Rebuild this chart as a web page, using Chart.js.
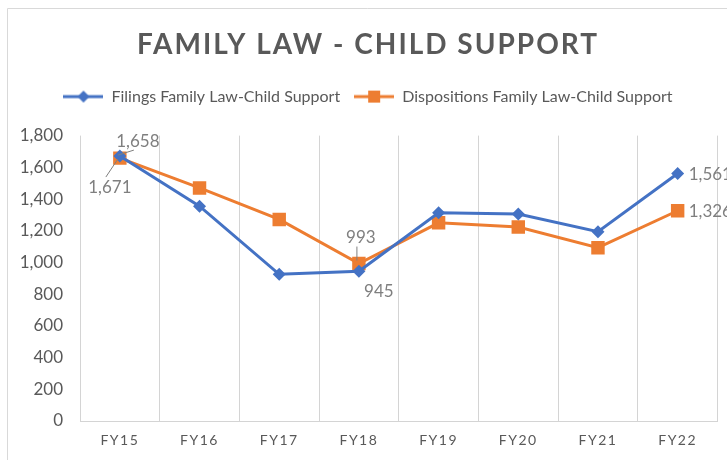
<!DOCTYPE html>
<html>
<head>
<meta charset="utf-8">
<script src="https://cdn.jsdelivr.net/npm/chart.js@4"></script>
<style>
  html, body { margin: 0; padding: 0; background: #fff; overflow: hidden; }
  #wrap { position: relative; width: 727px; height: 460px; }
</style>
</head>
<body>
<div id="wrap"><canvas id="chart" width="727" height="460"></canvas></div>
<script>
// --- chart data ---
const categories = ['FY15', 'FY16', 'FY17', 'FY18', 'FY19', 'FY20', 'FY21', 'FY22'];
const filings = [1671, 1355, 925, 945, 1313, 1306, 1194, 1561];
const dispositions = [1658, 1470, 1271, 993, 1250, 1223, 1093, 1326];
const yTicks = [0, 200, 400, 600, 800, 1000, 1200, 1400, 1600, 1800];

const BLUE = '#4472C4';
const ORANGE = '#ED7D31';
const TEXT = '#595959';
const LABEL = '#7f7f7f';
const GRID = '#d4d4d4';

// labels shown on the chart: [dataset, index, dx, dy, align, leader]
const shownLabels = [
    [1, 0, 18, -17, 'center', true],
    [0, 0, -10, 31, 'center', true],
    [1, 3, 2, -26, 'center', true],
    [0, 3, 20, 20, 'center', false],
    [0, 7, 11, 1, 'left', false],
    [1, 7, 11, 1, 'left', false]
];

// small canvas used as legend marker (line + point)
function legendMarker(color, shape) {
    const c = document.createElement('canvas');
    c.width = 40; c.height = 16;
    const g = c.getContext('2d');
    g.strokeStyle = color;
    g.lineWidth = 3;
    g.beginPath(); g.moveTo(0, 8); g.lineTo(40, 8); g.stroke();
    g.fillStyle = color;
    g.beginPath();
    if (shape === 'diamond') {
        g.moveTo(20, 2); g.lineTo(26, 8); g.lineTo(20, 14); g.lineTo(14, 8);
    } else {
        g.rect(14, 2, 12, 12);
    }
    g.fill();
    return c;
}

const framePlugin = {
    id: 'frame',
    beforeLayout(chart) {
        // extra room under the legend
        const lg = chart.legend;
        if (lg && !lg._padded) {
            const origFit = lg.fit.bind(lg);
            lg.fit = function () { origFit(); this.height += 21; };
            lg._padded = true;
        }
    },
    beforeDraw(chart) {
        const ctx = chart.ctx;
        ctx.save();
        ctx.strokeStyle = '#d9d9d9';
        ctx.lineWidth = 1;
        ctx.beginPath();
        ctx.moveTo(7.5, 460); ctx.lineTo(7.5, 8.5); ctx.lineTo(727, 8.5);
        ctx.stroke();
        ctx.restore();
    },
    afterLayout(chart) {
        // letter spacing for title and category labels
        const s = chart.scales.x;
        if (s && !s._spaced) {
            const orig = s.drawLabels.bind(s);
            s.drawLabels = function (area) {
                chart.ctx.save();
                chart.ctx.letterSpacing = '1.5px';
                orig(area);
                chart.ctx.restore();
            };
            s._spaced = true;
        }
        const t = chart.titleBlock;
        if (t && !t._spaced) {
            const origT = t.draw.bind(t);
            t.draw = function () {
                chart.ctx.save();
                chart.ctx.letterSpacing = '2px';
                origT();
                chart.ctx.restore();
            };
            t._spaced = true;
        }
    }
};

const dataLabelPlugin = {
    id: 'dataLabels',
    afterDatasetsDraw(chart) {
        const ctx = chart.ctx;
        ctx.save();
        ctx.font = '17px Lato';
        ctx.fillStyle = LABEL;
        ctx.strokeStyle = LABEL;
        ctx.lineWidth = 1;
        ctx.textBaseline = 'middle';
        shownLabels.forEach(([ds, i, dx, dy, align, leader]) => {
            const pt = chart.getDatasetMeta(ds).data[i];
            const v = chart.data.datasets[ds].data[i];
            const x = pt.x + dx, y = pt.y + dy;
            ctx.textAlign = align;
            ctx.fillText(v.toLocaleString('en-US'), x, y);
            if (leader) {
                const ly = dy < 0 ? y + 9 : y - 10;
                ctx.beginPath();
                ctx.moveTo(x - 4, ly);
                ctx.lineTo(pt.x - 2, pt.y + (dy < 0 ? -3 : 3));
                ctx.stroke();
            }
        });
        ctx.restore();
    }
};

const ctx = document.getElementById('chart').getContext('2d');
new Chart(ctx, {
    type: 'line',
    data: {
        labels: categories,
        datasets: [
            {
                label: 'Filings Family Law-Child Support',
                data: filings,
                borderColor: BLUE,
                backgroundColor: BLUE,
                borderWidth: 3,
                pointStyle: 'rectRot',
                pointRadius: 6.5,
                pointBorderWidth: 0,
                tension: 0
            },
            {
                label: 'Dispositions Family Law-Child Support',
                data: dispositions,
                borderColor: ORANGE,
                backgroundColor: ORANGE,
                borderWidth: 3,
                pointStyle: 'rect',
                pointRadius: 9.5,
                pointBorderWidth: 0,
                tension: 0
            }
        ]
    },
    options: {
        responsive: false,
        animation: false,
        layout: { padding: { left: 16, right: 7, top: 0, bottom: 0 } },
        plugins: {
            title: {
                display: true,
                text: 'FAMILY LAW - CHILD SUPPORT',
                color: TEXT,
                font: { family: 'Lato', size: 28, weight: 'bold' },
                padding: { top: 28, bottom: 13 }
            },
            legend: {
                display: true,
                labels: {
                    usePointStyle: true,
                    pointStyleWidth: 40,
                    color: TEXT,
                    font: { family: 'Lato', size: 16 },
                    padding: 14,
                    generateLabels(chart) {
                        return chart.data.datasets.map((d, i) => ({
                            text: d.label,
                            fontColor: TEXT,
                            pointStyle: legendMarker(d.borderColor, i === 0 ? 'diamond' : 'square'),
                            datasetIndex: i,
                            lineWidth: 0,
                            hidden: false
                        }));
                    }
                }
            },
            tooltip: { enabled: false }
        },
        scales: {
            x: {
                offset: true,
                afterFit(scale) { scale.height = 39; },
                grid: { offset: true, color: GRID, lineWidth: 1, drawTicks: false },
                border: { display: true, color: GRID },
                ticks: { color: TEXT, font: { family: 'Lato', size: 14 }, padding: 11 }
            },
            y: {
                min: 0,
                max: 1800,
                afterBuildTicks(scale) { scale.ticks = yTicks.map(v => ({ value: v })); },
                afterFit(scale) { scale.width = 64; },
                grid: { display: false, drawTicks: false },
                border: { display: false },
                ticks: {
                    color: TEXT,
                    font: { family: 'Lato', size: 17 },
                    padding: 17,
                    callback: v => v.toLocaleString('en-US')
                }
            }
        }
    },
    plugins: [framePlugin, dataLabelPlugin]
});
</script>
</body>
</html>
